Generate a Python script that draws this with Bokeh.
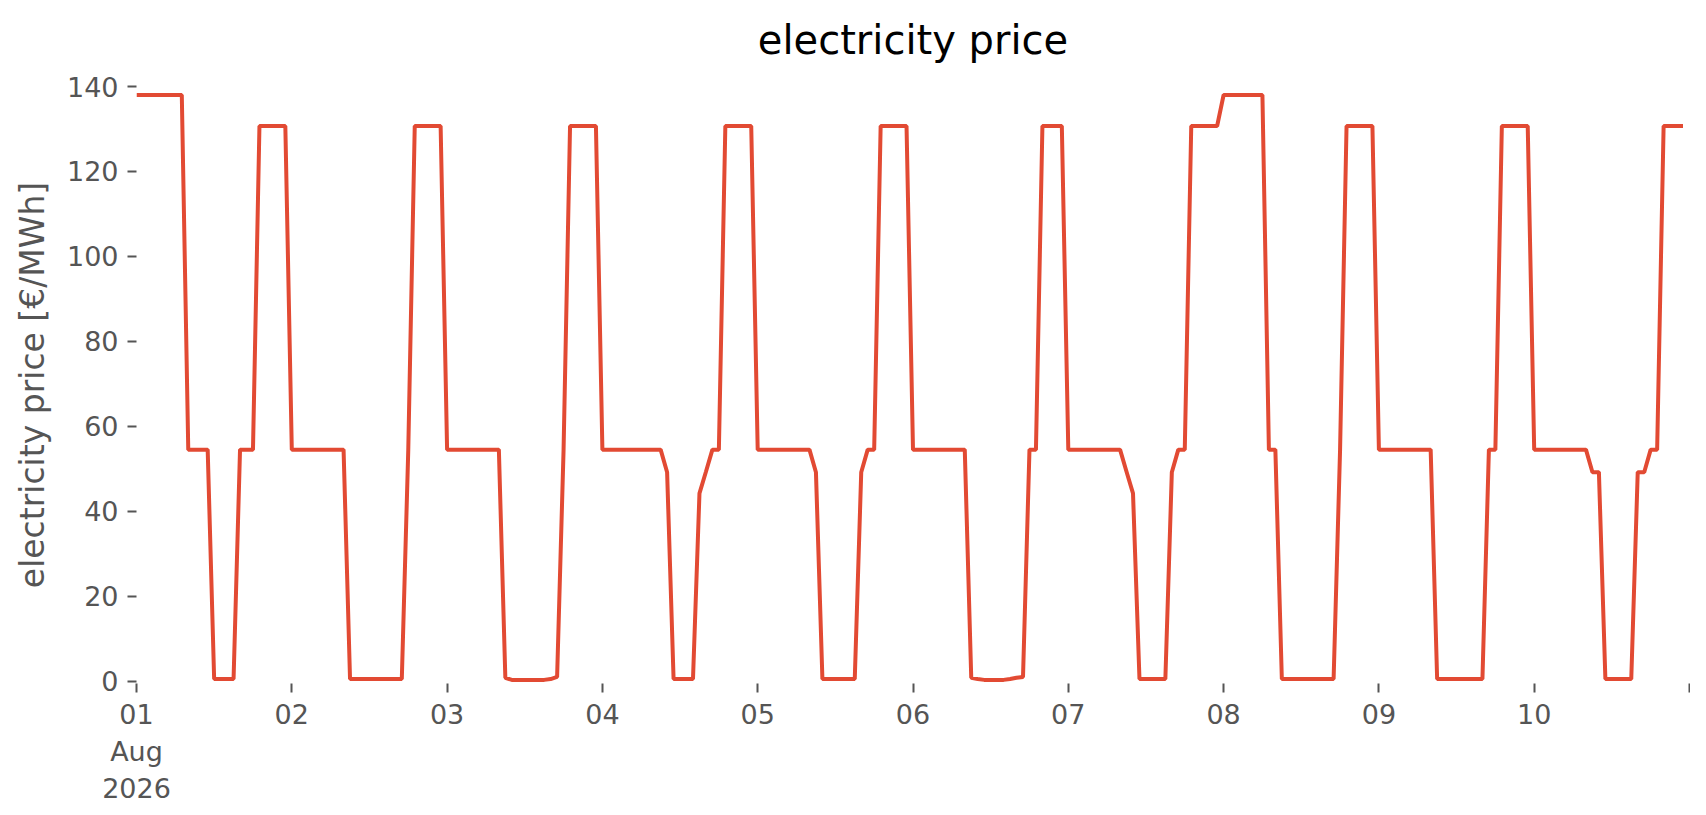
import pandas as pd
from bokeh.plotting import figure
from bokeh.models import ColumnDataSource, FixedTicker, Range1d, LinearAxis
from bokeh.embed import file_html
from bokeh.resources import INLINE

# hourly electricity price [EUR/MWh], 1 Aug 2026 00:00 .. 10 Aug 2026 23:00
day01 = [138.0, 138.0, 138.0, 138.0, 138.0, 138.0, 138.0, 138.0, 54.5, 54.5, 54.5, 54.5,
         0.5, 0.5, 0.5, 0.5, 54.5, 54.5, 54.5, 130.7, 130.7, 130.7, 130.7, 130.7]
day02 = [54.5, 54.5, 54.5, 54.5, 54.5, 54.5, 54.5, 54.5, 54.5, 0.5, 0.5, 0.5,
         0.5, 0.5, 0.5, 0.5, 0.5, 0.5, 54.5, 130.7, 130.7, 130.7, 130.7, 130.7]
day03 = [54.5, 54.5, 54.5, 54.5, 54.5, 54.5, 54.5, 54.5, 54.5, 0.8, 0.3, 0.3,
         0.3, 0.3, 0.3, 0.3, 0.5, 1.0, 54.5, 130.7, 130.7, 130.7, 130.7, 130.7]
day04 = [54.5, 54.5, 54.5, 54.5, 54.5, 54.5, 54.5, 54.5, 54.5, 54.5, 49.2, 0.5,
         0.5, 0.5, 0.5, 44.2, 49.3, 54.5, 54.5, 130.7, 130.7, 130.7, 130.7, 130.7]
day05 = [54.5, 54.5, 54.5, 54.5, 54.5, 54.5, 54.5, 54.5, 54.5, 49.2, 0.5, 0.5,
         0.5, 0.5, 0.5, 0.5, 49.2, 54.5, 54.5, 130.7, 130.7, 130.7, 130.7, 130.7]
day06 = [54.5, 54.5, 54.5, 54.5, 54.5, 54.5, 54.5, 54.5, 54.5, 0.8, 0.5, 0.3,
         0.3, 0.3, 0.3, 0.5, 0.8, 1.0, 54.5, 54.5, 130.7, 130.7, 130.7, 130.7]
day07 = [54.5, 54.5, 54.5, 54.5, 54.5, 54.5, 54.5, 54.5, 54.5, 49.3, 44.2, 0.5,
         0.5, 0.5, 0.5, 0.5, 49.2, 54.5, 54.5, 130.7, 130.7, 130.7, 130.7, 130.7]
day08 = [138.0, 138.0, 138.0, 138.0, 138.0, 138.0, 138.0, 54.5, 54.5, 0.5, 0.5, 0.5,
         0.5, 0.5, 0.5, 0.5, 0.5, 0.5, 54.5, 130.7, 130.7, 130.7, 130.7, 130.7]
day09 = [54.5, 54.5, 54.5, 54.5, 54.5, 54.5, 54.5, 54.5, 54.5, 0.5, 0.5, 0.5,
         0.5, 0.5, 0.5, 0.5, 0.5, 54.5, 54.5, 130.7, 130.7, 130.7, 130.7, 130.7]
day10 = [54.5, 54.5, 54.5, 54.5, 54.5, 54.5, 54.5, 54.5, 54.5, 49.2, 49.2, 0.5,
         0.5, 0.5, 0.5, 0.5, 49.2, 49.2, 54.5, 54.5, 130.7, 130.7, 130.7, 130.7]

tick_days = ["2026-08-01", "2026-08-02", "2026-08-03", "2026-08-04", "2026-08-05", "2026-08-06",
             "2026-08-07", "2026-08-08", "2026-08-09", "2026-08-10", "2026-08-11"]
tick_labels = ["01\nAug\n2026", "02", "03", "04", "05", "06", "07", "08", "09", "10", ""]
y_ticks = [0, 20, 40, 60, 80, 100, 120, 140]
title_text = "electricity price"

prices = day01 + day02 + day03 + day04 + day05 + day06 + day07 + day08 + day09 + day10
times = pd.date_range("2026-08-01 00:00", periods=len(prices), freq="h")
src = ColumnDataSource(dict(t=times, price=prices))

tick_ms = [pd.Timestamp(d).value // 10**6 for d in tick_days]

p = figure(x_axis_type="datetime", output_backend="svg", toolbar_location=None,
           frame_width=1553, frame_height=597,
           min_border_left=136, min_border_right=1, min_border_top=86, min_border_bottom=115,
           x_range=Range1d(tick_ms[0], tick_ms[-1]), y_range=Range1d(-0.55, 140),
           background_fill_color="white", border_fill_color="white")
p.outline_line_color = None
p.grid.visible = False

p.line("t", "price", source=src, line_color="#E24A33", line_width=4)

bottom_axis = p.below[0]
left_axis = p.left[0]

for ax in (bottom_axis, left_axis):
    ax.axis_line_color = None
    ax.major_tick_line_color = "#555555"
    ax.major_tick_line_width = 2
    ax.major_tick_out = 9
    ax.major_tick_in = 0
    ax.minor_tick_line_color = None
    ax.major_label_text_color = "#555555"
    ax.major_label_text_font = "DejaVu Sans"
    ax.major_label_text_font_size = "27px"
    ax.axis_label_text_color = "#555555"
    ax.axis_label_text_font = "DejaVu Sans"
    ax.axis_label_text_font_size = "33px"
    ax.axis_label_text_font_style = "normal"

bottom_axis.ticker = FixedTicker(ticks=tick_ms)
bottom_axis.major_label_overrides = {t: lab for t, lab in zip(tick_ms, tick_labels)}
bottom_axis.major_label_standoff = 6

left_axis.ticker = FixedTicker(ticks=y_ticks)
left_axis.axis_label = "electricity price [€/MWh]"
left_axis.major_label_standoff = 9
left_axis.axis_label_standoff = 12

# chart title drawn as the label of a tick-less axis above the plot
title_axis = LinearAxis(ticker=FixedTicker(ticks=[]), axis_label=title_text)
title_axis.axis_line_color = None
title_axis.major_tick_line_color = None
title_axis.minor_tick_line_color = None
title_axis.major_tick_out = 0
title_axis.major_label_standoff = 0
title_axis.axis_label_standoff = 24
title_axis.axis_label_text_font = "DejaVu Sans"
title_axis.axis_label_text_font_size = "40px"
title_axis.axis_label_text_font_style = "normal"
title_axis.axis_label_text_color = "#000000"
p.add_layout(title_axis, "above")

open("out.html", "w").write(file_html(p, INLINE))
